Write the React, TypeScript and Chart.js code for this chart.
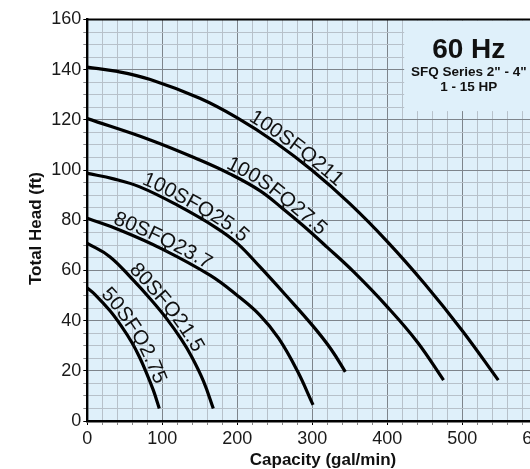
import React, { useEffect, useRef } from "react";
import { Chart, registerables } from "chart.js";

Chart.register(...registerables);

// ---- data ----
const pumpNames = ["100SFQ211", "100SFQ27.5", "100SFQ25.5", "80SFQ23.7", "80SFQ21.5", "50SFQ2.75"];

const cap211 = [0, 40, 84, 150, 200, 250, 300, 350, 400, 450, 500, 548];
const head211 = [141, 139.3, 136.1, 128.6, 120.8, 111.2, 99.8, 86.6, 71.5, 54.6, 36, 16.3];

const cap275 = [0, 84, 150, 190, 230, 260, 288, 320, 355, 400, 440, 475];
const head275 = [120.5, 112, 104, 98.5, 91.8, 84.8, 77.8, 69.2, 59.5, 45.5, 31.5, 16.3];

const cap255 = [0, 35, 70, 120, 172, 200, 230, 265, 301, 325, 344];
const head255 = [98.7, 96.5, 93.3, 86, 77, 70.8, 61.5, 50, 37.8, 28.6, 19.6];

const cap237 = [0, 44, 100, 164, 200, 230, 255, 280, 301];
const head237 = [80.8, 76, 68.5, 58, 50, 42.2, 33, 20, 6.4];

const cap215 = [0, 30, 61, 85, 106, 125, 139, 155, 168];
const head215 = [70.8, 65.5, 56.2, 48.3, 40.7, 32.7, 25.7, 15.8, 5];

const cap2075 = [0, 10, 30, 45, 60, 70, 78, 88, 96];
const head2075 = [53, 50.5, 44, 38, 31, 25.2, 19.8, 12.3, 5];

const capacities = [cap211, cap275, cap255, cap237, cap215, cap2075];
const heads = [head211, head275, head255, head237, head215, head2075];

// where (capacity value) each curve label starts along its curve
const labelStarts = [212, 182, 70, 32, 52, 14];

const xTicksMax = 600;
const yTicksMax = 160;

const boxTitle = "60 Hz";
const boxLine1 = 'SFQ Series 2" - 4"';
const boxLine2 = "1 - 15 HP";
const xTitle = "Capacity (gal/min)";
const yTitle = "Total Head (ft)";

// ---- styles ----
const FONT = "'Liberation Sans', Arial, Helvetica, sans-serif";
const BG = "#dff0fa";
const MINOR = "#b7c1ca";
const MAJOR = "#7e858c";

function buildPath(meta: any) {
  const els = meta.data as any[];
  const pts: { x: number; y: number }[] = [];
  for (let i = 0; i < els.length - 1; i++) {
    const a = els[i];
    const b = els[i + 1];
    const hasCp = a.cp2x !== undefined && b.cp1x !== undefined;
    const n = 24;
    for (let k = 0; k < n; k++) {
      const t = k / n;
      if (hasCp) {
        const mt = 1 - t;
        const x = mt * mt * mt * a.x + 3 * mt * mt * t * a.cp2x + 3 * mt * t * t * b.cp1x + t * t * t * b.x;
        const y = mt * mt * mt * a.y + 3 * mt * mt * t * a.cp2y + 3 * mt * t * t * b.cp1y + t * t * t * b.y;
        pts.push({ x, y });
      } else {
        pts.push({ x: a.x + (b.x - a.x) * t, y: a.y + (b.y - a.y) * t });
      }
    }
  }
  const last = els[els.length - 1];
  pts.push({ x: last.x, y: last.y });
  return pts;
}

function drawTextOnPath(ctx: CanvasRenderingContext2D, pts: { x: number; y: number }[], startPx: number, text: string, offset: number) {
  const cum = [0];
  for (let i = 1; i < pts.length; i++) {
    cum.push(cum[i - 1] + Math.hypot(pts[i].x - pts[i - 1].x, pts[i].y - pts[i - 1].y));
  }
  let s0 = 0;
  for (let i = 1; i < pts.length; i++) {
    if (pts[i].x >= startPx) {
      const t = (startPx - pts[i - 1].x) / (pts[i].x - pts[i - 1].x || 1);
      s0 = cum[i - 1] + t * (cum[i] - cum[i - 1]);
      break;
    }
  }
  const posAt = (s: number) => {
    let i = 1;
    while (i < pts.length - 1 && cum[i] < s) i++;
    const segLen = cum[i] - cum[i - 1] || 1;
    const t = (s - cum[i - 1]) / segLen;
    const x = pts[i - 1].x + (pts[i].x - pts[i - 1].x) * t;
    const y = pts[i - 1].y + (pts[i].y - pts[i - 1].y) * t;
    const j0 = Math.max(0, i - 5);
    const j1 = Math.min(pts.length - 1, i + 4);
    const ang = Math.atan2(pts[j1].y - pts[j0].y, pts[j1].x - pts[j0].x);
    return { x, y, ang };
  };
  let s = s0;
  for (const ch of text) {
    const w = ctx.measureText(ch).width;
    const p = posAt(s + w / 2);
    const nx = Math.sin(p.ang);
    const ny = -Math.cos(p.ang);
    ctx.save();
    ctx.translate(p.x + nx * offset, p.y + ny * offset);
    ctx.rotate(p.ang);
    ctx.fillText(ch, -w / 2, 0);
    ctx.restore();
    s += w;
  }
}

const decorPlugin = {
  id: "decor",
  beforeDraw(chart: any) {
    const { ctx, chartArea } = chart;
    ctx.save();
    ctx.fillStyle = BG;
    ctx.fillRect(chartArea.left, chartArea.top, chartArea.right - chartArea.left, chartArea.bottom - chartArea.top);
    ctx.restore();
  },
  beforeDatasetsDraw(chart: any) {
    const { ctx, chartArea, scales } = chart;
    const xs = scales.x;
    const ys = scales.y;
    const bx = xs.getPixelForValue(422.5);
    const by = ys.getPixelForValue(123.5);
    ctx.save();
    ctx.fillStyle = BG;
    ctx.fillRect(bx, chartArea.top + 1, chartArea.right + 40 - bx, by - chartArea.top - 1);
    const cx = (bx + chartArea.right) / 2 - 2;
    ctx.fillStyle = "#111";
    ctx.textAlign = "center";
    ctx.textBaseline = "alphabetic";
    ctx.font = `bold 28px ${FONT}`;
    ctx.fillText(boxTitle, cx, chartArea.top + 38);
    ctx.font = `bold 13.5px ${FONT}`;
    ctx.fillText(boxLine1, cx, chartArea.top + 56.5);
    ctx.fillText(boxLine2, cx, chartArea.top + 71);
    ctx.strokeStyle = "#000";
    ctx.lineWidth = 2;
    ctx.beginPath();
    ctx.moveTo(chartArea.left, chartArea.top);
    ctx.lineTo(chartArea.right + 40, chartArea.top);
    ctx.stroke();
    ctx.restore();
  },
  afterDatasetsDraw(chart: any) {
    const { ctx, scales } = chart;
    ctx.save();
    ctx.fillStyle = "#111";
    ctx.font = `20.5px ${FONT}`;
    ctx.textBaseline = "alphabetic";
    ctx.textAlign = "left";
    pumpNames.forEach((name, i) => {
      const meta = chart.getDatasetMeta(i);
      const pts = buildPath(meta);
      drawTextOnPath(ctx, pts, scales.x.getPixelForValue(labelStarts[i]), name, 3.5);
    });
    ctx.font = `bold 17px ${FONT}`;
    ctx.textAlign = "center";
    ctx.fillText(xTitle, 323, 465);
    ctx.save();
    ctx.translate(41, 228.5);
    ctx.rotate(-Math.PI / 2);
    ctx.fillText(yTitle, 0, 0);
    ctx.restore();
    ctx.restore();
  },
};

export default function App() {
  const ref = useRef<HTMLCanvasElement | null>(null);
  useEffect(() => {
    if (!ref.current) return;
    const datasets = pumpNames.map((name, i) => ({
      label: name,
      data: capacities[i].map((c, k) => ({ x: c, y: heads[i][k] })),
      borderColor: "#000",
      borderWidth: 3.2,
      pointRadius: 0,
      fill: false,
      tension: 0.4,
      borderCapStyle: "butt" as const,
    }));
    const chart = new Chart(ref.current, {
      type: "line",
      data: { datasets },
      options: {
        animation: false,
        responsive: false,
        devicePixelRatio: 1,
        layout: { padding: { left: 0, right: 22.7, top: 19.5, bottom: 0 } },
        plugins: { legend: { display: false }, tooltip: { enabled: false } },
        scales: {
          x: {
            type: "linear",
            min: 0,
            max: xTicksMax,
            afterFit: (s: any) => {
              s.height = 48;
            },
            ticks: {
              stepSize: 20,
              autoSkip: false,
              maxRotation: 0,
              padding: 3,
              color: "#1a1a1a",
              font: { family: FONT, size: 18 },
              callback: (v: any) => (Number(v) % 100 === 0 ? String(v) : ""),
            },
            grid: {
              color: (c: any) => (c.tick && c.tick.value % 100 === 0 ? MAJOR : MINOR),
              tickColor: (c: any) => (c.tick && c.tick.value % 100 === 0 ? "#000" : "#888"),
              tickLength: 4,
              lineWidth: 1,
            },
            border: { color: "#000", width: 2.6 },
          },
          y: {
            type: "linear",
            min: 0,
            max: yTicksMax,
            afterFit: (s: any) => {
              s.width = 87.3;
            },
            ticks: {
              stepSize: 5,
              autoSkip: false,
              padding: 2,
              color: "#1a1a1a",
              font: { family: FONT, size: 18 },
              callback: (v: any) => (Number(v) % 20 === 0 ? String(v) : ""),
            },
            grid: {
              color: (c: any) => (c.tick && c.tick.value % 20 === 0 ? MAJOR : MINOR),
              tickColor: (c: any) => (c.tick && c.tick.value % 20 === 0 ? "#000" : "#888"),
              tickLength: 4,
              lineWidth: 1,
            },
            border: { color: "#000", width: 2.4 },
          },
        },
      },
      plugins: [decorPlugin],
    });
    return () => chart.destroy();
  }, []);
  return (
    <div style={{ position: "fixed", left: 0, top: 0, width: 530, height: 469, overflow: "hidden", background: "#fff" }}>
      <canvas ref={ref} width={560} height={469} style={{ display: "block", width: 560, height: 469 }} />
    </div>
  );
}
